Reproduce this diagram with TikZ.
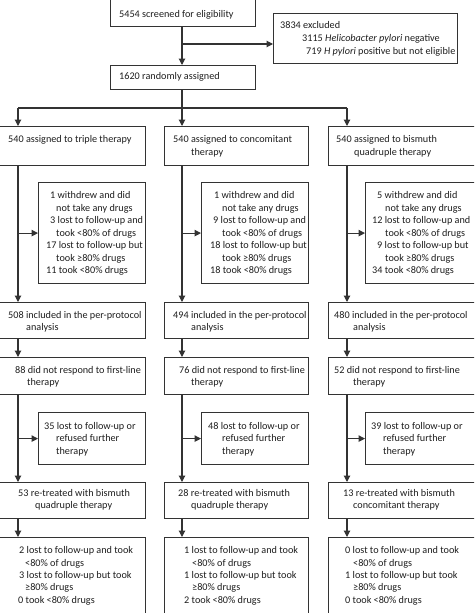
\documentclass[tikz,border=0pt]{standalone}
\usepackage{fontspec}
\setmainfont{Carlito}
\usetikzlibrary{arrows.meta}
\definecolor{ln}{HTML}{333333}
\definecolor{tx}{HTML}{1E1E1E}
\newcommand\tl[4]{\node[txt] (#1) at (#2,#3) {#4};}
\begin{document}
\begin{tikzpicture}[x=1pt,y=-1pt,
  box/.style={draw=ln,line width=1.2pt,rectangle,inner sep=0pt,anchor=north west},
  txt/.style={anchor=base west,inner sep=0pt,text=tx,font=\fontsize{10.2}{12}\selectfont},
  arr/.style={draw=ln,line width=1.1pt,-{Triangle[length=6.5pt,width=6.5pt]}},
  ln/.style={draw=ln,line width=1.1pt}]
\useasboundingbox (0,0) rectangle (474,613);
\clip (0,0) rectangle (474,613);
% boxes
\node[box,minimum width=145pt,minimum height=31pt] (top) at (110,-5) {};
\node[box,minimum width=184pt,minimum height=50pt] (excl) at (273,13) {};
\node[box,minimum width=145pt,minimum height=24pt] (rand) at (110,65) {};
\foreach \r/\y/\h in {A/126/39,P/302/36,D/357/37,R/482/36,F/537/85}{
  \node[box,minimum width=150pt,minimum height=\h pt] (\r1) at (-5,\y) {};
  \node[box,minimum width=144pt,minimum height=\h pt] (\r2) at (164,\y) {};
  \node[box,minimum width=152pt,minimum height=\h pt] (\r3) at (328,\y) {};
}
\foreach \r/\y/\h in {S/182/101,L/412/52}{
  \node[box,minimum width=107pt,minimum height=\h pt] (\r1) at (38,\y) {};
  \node[box,minimum width=107pt,minimum height=\h pt] (\r2) at (201,\y) {};
  \node[box,minimum width=115pt,minimum height=\h pt] (\r3) at (365,\y) {};
}
% coordinates
\coordinate (c1) at (18,0);
\coordinate (c2) at (182,0);
\coordinate (c3) at (347,0);
\coordinate (ex) at (182,44);
\coordinate (hb) at (182,108);
\coordinate (h1) at (18,108);
\coordinate (h3) at (347,108);
% connectors
\draw[arr] (top.south -| c2) -- (rand.north -| c2);
\draw[arr] (ex) -- (ex -| excl.west);
\draw[ln] (rand.south -| c2) -- (hb);
\draw[ln] (h1) -- (h3);
\draw[arr] (h1) -- (h1 |- A1.north);
\draw[arr] (hb) -- (hb |- A2.north);
\draw[arr] (h3) -- (h3 |- A3.north);
\foreach \i in {1,2,3}{
  \draw[arr] (c\i |- A\i.south) -- (c\i |- P\i.north);
  \draw[arr] (c\i |- S\i.west) -- (S\i.west);
  \draw[arr] (c\i |- P\i.south) -- (c\i |- D\i.north);
  \draw[arr] (c\i |- D\i.south) -- (c\i |- R\i.north);
  \draw[arr] (c\i |- L\i.west) -- (L\i.west);
  \draw[arr] (c\i |- R\i.south) -- (c\i |- F\i.north);
}
% texts
\tl{t0}{119}{17}{5454 screened for eligibility}
\tl{e1}{280}{28}{3834 excluded}
\tl{e2}{302}{41}{3115 \textit{Helicobacter pylori} negative}
\tl{e3}{306}{54}{719 \textit{H pylori} positive but not eligible}
\tl{t1}{119}{79}{1620 randomly assigned}
% assigned
\tl{a11}{8}{142}{540 assigned to triple therapy}
\tl{a21}{173}{142}{540 assigned to concomitant}
\tl{a22}{191}{155}{therapy}
\tl{a31}{336}{142}{540 assigned to bismuth}
\tl{a32}{354}{155}{quadruple therapy}
% side 1
\tl{s11}{50}{198}{1 withdrew and did}
\tl{s12}{56}{211}{not take any drugs}
\tl{s13}{50}{223}{3 lost to follow-up and}
\tl{s14}{56}{236}{took <80\% of drugs}
\tl{s15}{46}{248}{17 lost to follow-up but}
\tl{s16}{56}{261}{took ≥80\% drugs}
\tl{s17}{46}{273}{11 took <80\% drugs}
\tl{s21}{214}{198}{1 withdrew and did}
\tl{s22}{222}{211}{not take any drugs}
\tl{s23}{213}{223}{9 lost to follow-up and}
\tl{s24}{222}{236}{took <80\% of drugs}
\tl{s25}{210}{248}{18 lost to follow-up but}
\tl{s26}{222}{261}{took ≥80\% drugs}
\tl{s27}{210}{273}{18 took <80\% drugs}
\tl{s31}{377}{198}{5 withdrew and did}
\tl{s32}{385}{211}{not take any drugs}
\tl{s33}{372}{223}{12 lost to follow-up and}
\tl{s34}{385}{236}{took <80\% of drugs}
\tl{s35}{377}{248}{9 lost to follow-up but}
\tl{s36}{385}{261}{took ≥80\% drugs}
\tl{s37}{372}{273}{34 took <80\% drugs}
% per protocol
\tl{p11}{8}{318}{508 included in the per-protocol}
\tl{p12}{26}{330}{analysis}
\tl{p21}{173}{318}{494 included in the per-protocol}
\tl{p22}{191}{330}{analysis}
\tl{p31}{334}{318}{480 included in the per-protocol}
\tl{p32}{353}{330}{analysis}
% did not respond
\tl{d11}{15}{373}{88 did not respond to first-line}
\tl{d12}{27}{385}{therapy}
\tl{d21}{179}{373}{76 did not respond to first-line}
\tl{d22}{191}{385}{therapy}
\tl{d31}{334}{373}{52 did not respond to first-line}
\tl{d32}{353}{385}{therapy}
% lost
\tl{l11}{44}{429}{35 lost to follow-up or}
\tl{l12}{56}{441}{refused further}
\tl{l13}{56}{454}{therapy}
\tl{l21}{208}{429}{48 lost to follow-up or}
\tl{l22}{222}{441}{refused further}
\tl{l23}{222}{454}{therapy}
\tl{l31}{371}{429}{39 lost to follow-up or}
\tl{l32}{383}{441}{refused further}
\tl{l33}{383}{454}{therapy}
% re-treated
\tl{r11}{18}{496}{53 re-treated with bismuth}
\tl{r12}{35}{508}{quadruple therapy}
\tl{r21}{178}{496}{28 re-treated with bismuth}
\tl{r22}{191}{508}{quadruple therapy}
\tl{r31}{343}{496}{13 re-treated with bismuth}
\tl{r32}{353}{508}{concomitant therapy}
% final
\tl{f11}{19}{553}{2 lost to follow-up and took}
\tl{f12}{25}{566}{<80\% of drugs}
\tl{f13}{19}{578}{3 lost to follow-up but took}
\tl{f14}{25}{590}{≥80\% drugs}
\tl{f15}{18}{603}{0 took <80\% drugs}
\tl{f21}{184}{553}{1 lost to follow-up and took}
\tl{f22}{192}{566}{<80\% of drugs}
\tl{f23}{184}{578}{1 lost to follow-up but took}
\tl{f24}{192}{590}{≥80\% drugs}
\tl{f25}{184}{603}{2 took <80\% drugs}
\tl{f31}{345}{553}{0 lost to follow-up and took}
\tl{f32}{353}{566}{<80\% of drugs}
\tl{f33}{345}{578}{1 lost to follow-up but took}
\tl{f34}{353}{590}{≥80\% drugs}
\tl{f35}{345}{603}{0 took <80\% drugs}
\end{tikzpicture}
\end{document}
